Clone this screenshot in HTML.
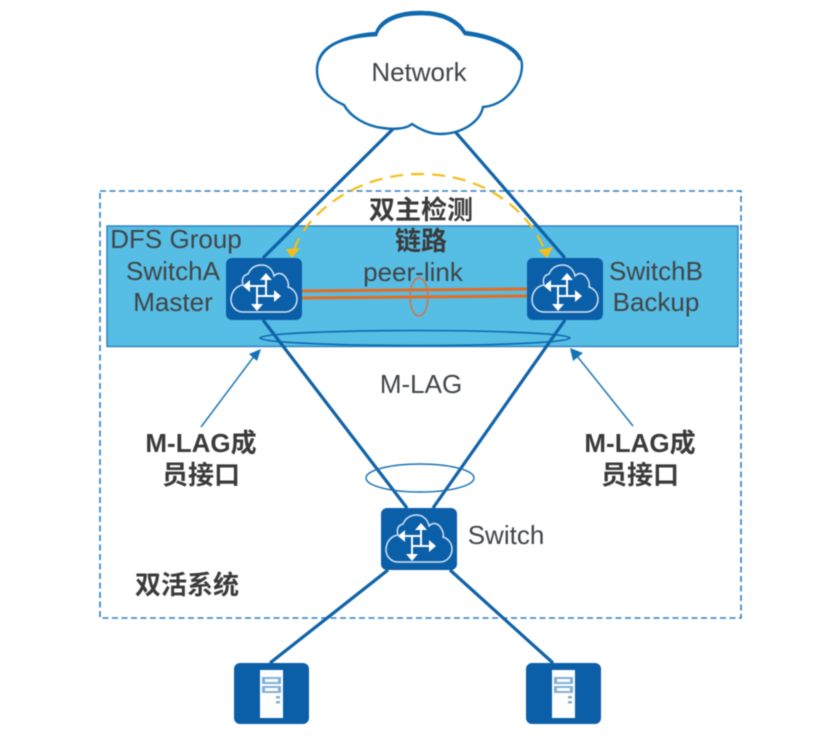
<!DOCTYPE html>
<html><head><meta charset="utf-8"><style>
html,body{margin:0;padding:0;background:#fff;overflow:hidden}
svg{display:block;filter:blur(.5px)}
text{font-family:"Liberation Sans","Noto Sans CJK SC",sans-serif;fill:#404548;text-anchor:middle;font-size:26px}
.b{font-weight:bold;fill:#3a3a3a}
</style></head><body>
<svg width="834" height="755" viewBox="0 0 834 755" xmlns="http://www.w3.org/2000/svg">
<defs>
<g id="sw">
<rect x="0" y="0" width="76" height="62" rx="6" fill="#0a5fa8"/>
<path d="M17 54 C9 54 5 47 5 42 C5 34 10 28 17 27 C15 20 18 17 22 16 C25 9 31 7 36 7 C42 7 47 12 48 18 C52 14 57 15 60 20 C62 23 63 26 62 29 C68 31 71 36 71 41 C71 49 65 54 59 54 Z" fill="none" stroke="#d5e4f1" stroke-width="1.5"/>
<g stroke="#fff" stroke-width="2" fill="none">
<path d="M40 21 V38"/><path d="M23 28 H40"/><path d="M31 28 V47"/><path d="M31 38 H49"/>
</g>
<g fill="#fff">
<path d="M40 15 L46 22 H34Z"/><path d="M17 28 L24 22 V34Z"/><path d="M55 38 L48 32 V44Z"/><path d="M31 53 L25 46 H37Z"/>
</g>
</g>
<g id="srv">
<rect x="0" y="0" width="75" height="61" rx="6" fill="#0a5fa8"/>
<rect x="26" y="7" width="23" height="48" fill="#fff"/>
<rect x="28" y="14" width="19" height="7" fill="#7fb0d6"/>
<rect x="31" y="16" width="13" height="3" fill="#fff"/>
<rect x="28" y="23" width="19" height="7" fill="#7fb0d6"/>
<rect x="31" y="25" width="13" height="3" fill="#fff"/>
<rect x="42" y="33" width="4" height="2.5" fill="#7fb0d6"/>
<rect x="42" y="38" width="4" height="2.5" fill="#7fb0d6"/>
</g>
</defs>

<rect x="107" y="226" width="631" height="120.5" fill="#56bde4" stroke="#2b7fc0" stroke-width="1.4"/>
<rect x="100" y="191" width="641" height="427" fill="none" stroke="#2d80c2" stroke-width="1.6" stroke-dasharray="6 3.5"/>

<g stroke="#0f62a8" stroke-width="3.2" fill="none">
<path d="M400 122 L263 258"/><path d="M445 120 L565 258"/>
<path d="M263 320 L407 508"/><path d="M565 320 L433 508"/>
<path d="M388 570 L270 663"/><path d="M450 570 L553 663"/>
</g>

<path d="M317 70 C317 52 335 36 376 33 C380 20 398 11 423 12 C442 12 458 20 465 32 C498 36 522 50 522 65 C522 85 505 105 483 107 C480 122 462 134 440 134 C428 134 418 128 412 124 C405 130 390 129 383 128 C365 126 350 116 344 105 C328 98 317 88 317 70 Z" fill="#fff" stroke="#0f69ae" stroke-width="2.4"/>
<path d="M319 60 C324 46 340 37 376 35 C380 22 398 13 423 14 C442 14 458 22 465 34 C490 37 514 46 520 60" fill="none" stroke="#0f69ae" stroke-width="2.8"/>

<path d="M302 291 L527 289" stroke="#e56c20" stroke-width="3" fill="none"/>
<path d="M302 298 L527 296" stroke="#e56c20" stroke-width="3" fill="none"/>
<ellipse cx="419" cy="297" rx="9" ry="19" fill="none" stroke="#d0764a" stroke-width="1.6"/>
<ellipse cx="415" cy="338" rx="155" ry="7.5" fill="none" stroke="#0f69ae" stroke-width="1.6"/>
<ellipse cx="420" cy="478" rx="54" ry="14" fill="none" stroke="#1a70b4" stroke-width="1.4"/>

<path d="M294 250 C305 215 355 174 420 174 C480 174 525 205 545 250" fill="none" stroke="#f3bd1a" stroke-width="2.2" stroke-dasharray="13 8"/>
<path d="M292 258 L286 249 L300 248Z" fill="#f3bd1a"/>
<path d="M547 258 L538 250 L553 247Z" fill="#f3bd1a"/>

<path d="M201 427 L255 355" stroke="#1f78ba" stroke-width="1.5"/>
<path d="M261 349 L249 354 L257 361Z" fill="#1473b6"/>
<path d="M633 426 L577 356" stroke="#1f78ba" stroke-width="1.5"/>
<path d="M570 348 L583 353 L573 361Z" fill="#1473b6"/>

<use href="#sw" x="226" y="258"/>
<use href="#sw" x="527" y="258"/>
<use href="#sw" x="381" y="508"/>
<use href="#srv" x="234" y="663"/>
<use href="#srv" x="526" y="663"/>

<text x="419" y="81">Network</text>
<text x="176" y="248">DFS Group</text>
<text x="173" y="280">SwitchA</text>
<text x="173" y="311">Master</text>
<text x="656" y="280">SwitchB</text>
<text x="656" y="311">Backup</text>
<text x="413" y="281">peer-link</text>
<text x="421" y="393">M-LAG</text>
<text x="506" y="544">Switch</text>
<text class="b" x="421" y="219">双主检测</text>
<text class="b" x="421" y="250">链路</text>
<text class="b" x="201" y="452">M-LAG成</text>
<text class="b" x="201" y="484">员接口</text>
<text class="b" x="640" y="452">M-LAG成</text>
<text class="b" x="640" y="484">员接口</text>
<text class="b" x="187" y="594">双活系统</text>
</svg>
</body></html>
